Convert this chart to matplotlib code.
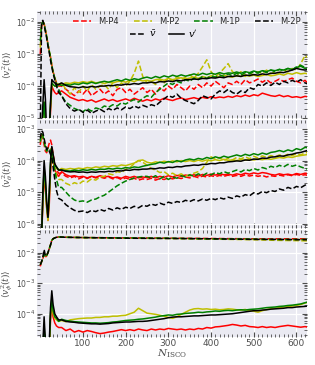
import matplotlib
matplotlib.use("Agg")
import matplotlib.pyplot as plt
from matplotlib.lines import Line2D
from matplotlib.ticker import FixedLocator, MultipleLocator
import numpy as np

# N_ISCO sample points: fine near the start, every 10 afterwards
x_early = [0, 3, 6, 9, 12, 15, 18, 21, 24, 27, 30, 34, 38, 43]
x_tail = list(range(50, 631, 10))
x_all = x_early + x_tail
# smooth mean v_phi curves only need a few points
x_phi_mean = x_early + [60, 100, 200, 300, 400, 500, 550, 600, 630]

models = ["M-P4", "M-P2", "M-1P", "M-2P"]
colors = ["r", "y", "g", "k"]

# ---- log10 <v_r^2(t)> ----
vr_mean = {
    "M-P4": [-3.0, -2.15, -2.0, -2.05, -2.25, -2.45, -2.7, -2.9, -3.1, -3.35, -3.55, -3.75, -3.9, -4.0,
             -4.0, -4.1, -4.2, -4.3, -4.15, -4.25, -4.1, -4.3, -4.2, -4.1,
             -4.25, -4.15, -4.3, -4.1, -4.05, -4.2, -4.1, -4.25, -4.15, -4.05,
             -4.2, -4.1, -4.25, -4.05, -4.15, -4.0, -4.1, -3.95, -4.05, -4.15,
             -4.0, -4.1, -3.95, -4.05, -3.9, -4.0, -3.85, -3.95, -4.05, -3.9,
             -3.95, -3.85, -3.95, -3.8, -3.9, -3.85, -3.78, -3.88, -3.8, -3.9,
             -3.85, -3.78, -3.86, -3.8, -3.75, -3.85, -3.9, -3.82, -3.95],
    "M-P2": [-2.8, -2.1, -2.0, -2.05, -2.25, -2.45, -2.7, -2.9, -3.1, -3.35, -3.55, -3.75, -3.9, -3.95,
             -3.9, -4.1, -4.25, -4.05, -4.2, -4.0, -4.15, -3.95, -4.1, -4.0,
             -3.95, -4.1, -3.9, -4.05, -3.9, -4.0, -3.85, -3.6, -3.22, -3.7,
             -3.9, -3.85, -3.95, -3.8, -3.9, -3.75, -3.85, -3.7, -3.8, -3.72,
             -3.65, -3.75, -3.6, -3.4, -3.18, -3.55, -3.7, -3.6, -3.45, -3.3,
             -3.55, -3.65, -3.55, -3.7, -3.6, -3.65, -3.55, -3.6, -3.5, -3.62,
             -3.55, -3.6, -3.5, -3.55, -3.45, -3.5, -3.3, -3.05, -3.15],
    "M-1P": [-2.6, -2.1, -2.0, -2.05, -2.25, -2.45, -2.7, -2.9, -3.1, -3.35, -3.55, -3.75, -3.95, -4.1,
             -4.3, -4.5, -4.6, -4.7, -4.75, -4.8, -4.7, -4.78, -4.68, -4.72,
             -4.62, -4.66, -4.58, -4.62, -4.52, -4.56, -4.48, -4.42, -4.5, -4.38,
             -4.3, -4.35, -4.2, -4.1, -4.0, -3.9, -3.95, -3.85, -3.9, -3.8,
             -3.85, -3.75, -3.8, -3.7, -3.76, -3.68, -3.72, -3.65, -3.7, -3.62,
             -3.68, -3.6, -3.66, -3.58, -3.62, -3.55, -3.6, -3.52, -3.58, -3.5,
             -3.55, -3.48, -3.52, -3.45, -3.5, -3.4, -3.35, -3.42, -3.45],
    "M-2P": [-5.5, -2.0, -1.95, -2.1, -2.3, -2.5, -2.75, -2.95, -3.2, -3.4, -3.6, -3.8, -4.0, -4.2,
             -4.3, -4.55, -4.7, -4.78, -4.72, -4.82, -4.75, -4.85, -4.78, -4.72,
             -4.8, -4.7, -4.76, -4.68, -4.74, -4.65, -4.7, -4.62, -4.68, -4.6,
             -4.65, -4.58, -4.62, -4.5, -4.4, -4.3, -4.35, -4.25, -4.38, -4.45,
             -4.5, -4.55, -4.45, -4.3, -4.35, -4.4, -4.25, -4.15, -4.2, -4.1,
             -4.2, -4.25, -4.15, -4.2, -4.05, -4.1, -3.95, -4.0, -3.9, -3.98,
             -3.88, -3.95, -3.85, -3.9, -3.82, -3.88, -3.8, -3.9, -3.95],
}
vr_fluct = {
    "M-P4": [-5.5, -5.5, -5.5, -5.2, -5.5, -5.5, -5.5, -5.5, -4.8, -4.0, -4.1, -4.2, -4.25, -4.2,
             -4.15, -4.25, -4.35, -4.4, -4.45, -4.42, -4.47, -4.43, -4.5, -4.45,
             -4.4, -4.46, -4.42, -4.48, -4.44, -4.4, -4.45, -4.38, -4.43, -4.47,
             -4.42, -4.46, -4.4, -4.44, -4.38, -4.42, -4.45, -4.4, -4.37, -4.42,
             -4.39, -4.36, -4.4, -4.35, -4.38, -4.33, -4.37, -4.34, -4.36, -4.32,
             -4.35, -4.3, -4.33, -4.28, -4.32, -4.27, -4.3, -4.22, -4.26, -4.3,
             -4.32, -4.28, -4.33, -4.3, -4.35, -4.33, -4.36, -4.32, -4.34],
    "M-P2": [-5.5, -5.5, -5.0, -4.5, -5.2, -5.5, -5.5, -5.5, -4.6, -3.9, -3.95, -4.0, -4.0, -3.95,
             -3.95, -3.9, -3.92, -3.88, -3.9, -3.86, -3.89, -3.85, -3.9, -3.88,
             -3.92, -3.88, -3.9, -3.86, -3.84, -3.88, -3.82, -3.86, -3.8, -3.84,
             -3.82, -3.85, -3.8, -3.78, -3.82, -3.76, -3.8, -3.77, -3.74, -3.78,
             -3.75, -3.72, -3.76, -3.7, -3.74, -3.68, -3.72, -3.7, -3.66, -3.7,
             -3.72, -3.68, -3.7, -3.65, -3.69, -3.66, -3.7, -3.67, -3.64, -3.68,
             -3.66, -3.62, -3.66, -3.6, -3.63, -3.58, -3.62, -3.6, -3.63],
    "M-1P": [-5.5, -5.5, -5.0, -4.5, -5.2, -5.5, -5.5, -5.5, -4.6, -3.9, -3.95, -4.0, -4.0, -3.95,
             -3.98, -3.95, -3.97, -3.93, -3.95, -3.9, -3.93, -3.88, -3.92, -3.88,
             -3.85, -3.88, -3.84, -3.8, -3.84, -3.78, -3.82, -3.77, -3.8, -3.75,
             -3.72, -3.76, -3.7, -3.74, -3.68, -3.72, -3.66, -3.7, -3.65, -3.69,
             -3.66, -3.62, -3.66, -3.6, -3.64, -3.6, -3.63, -3.58, -3.62, -3.59,
             -3.6, -3.56, -3.6, -3.55, -3.58, -3.53, -3.57, -3.52, -3.55, -3.5,
             -3.52, -3.48, -3.5, -3.45, -3.48, -3.42, -3.38, -3.45, -3.5],
    "M-2P": [-5.5, -5.5, -4.6, -3.8, -4.4, -5.5, -5.5, -5.5, -4.5, -3.8, -3.85, -3.9, -3.95, -3.95,
             -3.9, -3.98, -4.02, -4.03, -4.05, -4.02, -4.04, -4.01, -4.03, -4.0,
             -4.0, -3.98, -3.99, -3.96, -3.97, -3.94, -3.95, -3.92, -3.94, -3.9,
             -3.9, -3.88, -3.9, -3.86, -3.87, -3.84, -3.86, -3.82, -3.84, -3.8,
             -3.8, -3.78, -3.79, -3.76, -3.77, -3.74, -3.75, -3.72, -3.74, -3.7,
             -3.7, -3.68, -3.7, -3.66, -3.67, -3.64, -3.66, -3.62, -3.64, -3.6,
             -3.6, -3.57, -3.58, -3.54, -3.5, -3.45, -3.48, -3.5, -3.48],
}

# ---- log10 <v_theta^2(t)> ----
vth_mean = {
    "M-P4": [-3.5, -3.2, -3.3, -3.5, -3.7, -3.75, -3.6, -3.45, -3.35, -3.5, -3.8, -4.1, -4.3, -4.4,
             -4.4, -4.5, -4.55, -4.5, -4.58, -4.52, -4.57, -4.5, -4.55, -4.52,
             -4.56, -4.52, -4.58, -4.54, -4.6, -4.55, -4.6, -4.56, -4.62, -4.58,
             -4.6, -4.56, -4.62, -4.57, -4.6, -4.55, -4.58, -4.54, -4.57, -4.52,
             -4.55, -4.5, -4.54, -4.49, -4.52, -4.48, -4.51, -4.47, -4.5, -4.46,
             -4.5, -4.47, -4.5, -4.45, -4.49, -4.46, -4.5, -4.47, -4.52, -4.48,
             -4.5, -4.46, -4.49, -4.45, -4.48, -4.44, -4.47, -4.45, -4.48],
    "M-P2": [-3.4, -3.15, -3.2, -3.4, -3.6, -3.7, -3.6, -3.6, -3.6, -3.7, -3.9, -4.2, -4.5, -4.6,
             -4.6, -4.72, -4.78, -4.7, -4.75, -4.65, -4.68, -4.58, -4.62, -4.52,
             -4.5, -4.42, -4.45, -4.35, -4.38, -4.28, -4.22, -4.1, -4.0, -4.05,
             -4.15, -4.25, -4.3, -4.38, -4.35, -4.45, -4.4, -4.48, -4.42, -4.5,
             -4.45, -4.4, -4.35, -4.25, -4.05, -3.88, -3.95, -3.9, -4.0, -3.92,
             -3.98, -3.9, -3.95, -3.88, -3.94, -3.86, -3.92, -3.85, -3.9, -3.84,
             -3.88, -3.82, -3.86, -3.8, -3.84, -3.78, -3.82, -3.76, -3.72],
    "M-1P": [-3.4, -3.15, -3.2, -3.4, -3.6, -3.7, -3.6, -3.6, -3.7, -3.8, -4.0, -4.3, -4.6, -4.85,
             -4.85, -5.0, -5.15, -5.25, -5.3, -5.28, -5.32, -5.25, -5.22, -5.15,
             -5.1, -5.0, -4.9, -4.8, -4.72, -4.65, -4.6, -4.55, -4.52, -4.5,
             -4.5, -4.55, -4.48, -4.58, -4.5, -4.6, -4.52, -4.56, -4.48, -4.52,
             -4.45, -4.5, -4.42, -4.48, -4.4, -4.45, -4.38, -4.42, -4.35, -4.4,
             -4.35, -4.3, -4.36, -4.28, -4.32, -4.25, -4.3, -4.22, -4.26, -4.18,
             -4.22, -4.15, -4.2, -4.12, -4.18, -4.14, -4.2, -4.25, -4.28],
    "M-2P": [-3.3, -3.05, -3.1, -3.3, -3.5, -3.65, -3.6, -3.7, -3.8, -3.9, -4.2, -4.6, -4.95, -5.2,
             -5.25, -5.4, -5.5, -5.58, -5.62, -5.6, -5.65, -5.58, -5.62, -5.55,
             -5.6, -5.52, -5.57, -5.5, -5.55, -5.48, -5.52, -5.45, -5.5, -5.42,
             -5.45, -5.38, -5.42, -5.35, -5.4, -5.32, -5.36, -5.3, -5.33, -5.26,
             -5.3, -5.24, -5.28, -5.22, -5.26, -5.2, -5.24, -5.18, -5.22, -5.16,
             -5.2, -5.12, -5.16, -5.08, -5.12, -5.02, -5.06, -4.98, -5.02, -4.95,
             -4.98, -4.9, -4.94, -4.85, -4.9, -4.82, -4.86, -4.78, -4.72],
}
vth_fluct = {
    "M-P4": [-6.5, -6.5, -5.4, -4.5, -4.9, -5.5, -5.9, -5.4, -4.4, -3.8, -4.0, -4.3, -4.4, -4.5,
             -4.35, -4.45, -4.5, -4.48, -4.52, -4.5, -4.55, -4.5, -4.53, -4.48,
             -4.52, -4.5, -4.55, -4.52, -4.56, -4.5, -4.54, -4.5, -4.55, -4.52,
             -4.54, -4.5, -4.55, -4.5, -4.53, -4.48, -4.52, -4.47, -4.5, -4.46,
             -4.48, -4.45, -4.49, -4.44, -4.47, -4.43, -4.46, -4.42, -4.45, -4.43,
             -4.46, -4.42, -4.45, -4.4, -4.43, -4.39, -4.42, -4.38, -4.4, -4.44,
             -4.46, -4.42, -4.45, -4.43, -4.46, -4.41, -4.44, -4.4, -4.42],
    "M-P2": [-6.5, -6.5, -5.2, -4.3, -4.8, -5.5, -5.9, -5.2, -4.2, -3.65, -3.9, -4.2, -4.25, -4.3,
             -4.25, -4.28, -4.25, -4.27, -4.24, -4.26, -4.22, -4.24, -4.2, -4.22,
             -4.18, -4.2, -4.16, -4.18, -4.14, -4.16, -4.12, -4.08, -4.0, -3.98,
             -4.05, -4.08, -4.04, -4.06, -4.02, -4.05, -4.01, -4.04, -4.0, -4.03,
             -4.0, -4.03, -3.99, -4.02, -3.98, -4.01, -3.97, -4.0, -3.96, -3.99,
             -3.98, -4.0, -3.97, -3.99, -3.96, -3.98, -3.95, -3.97, -3.94, -3.96,
             -3.93, -3.9, -3.92, -3.88, -3.9, -3.86, -3.84, -3.82, -3.8],
    "M-1P": [-6.5, -6.5, -5.2, -4.2, -4.7, -5.4, -5.8, -5.1, -4.1, -3.6, -3.85, -4.15, -4.2, -4.3,
             -4.3, -4.32, -4.33, -4.3, -4.32, -4.29, -4.31, -4.28, -4.3, -4.27,
             -4.28, -4.25, -4.27, -4.24, -4.26, -4.22, -4.24, -4.2, -4.22, -4.18,
             -4.15, -4.12, -4.1, -4.05, -4.08, -4.03, -4.06, -4.0, -4.04, -3.98,
             -3.95, -3.98, -3.93, -3.96, -3.9, -3.94, -3.88, -3.92, -3.86, -3.9,
             -3.86, -3.82, -3.86, -3.8, -3.84, -3.78, -3.82, -3.76, -3.8, -3.74,
             -3.72, -3.68, -3.72, -3.66, -3.7, -3.62, -3.66, -3.58, -3.6],
    "M-2P": [-6.5, -6.5, -5.0, -4.0, -4.5, -5.3, -5.8, -5.0, -4.0, -3.55, -3.8, -4.1, -4.2, -4.3,
             -4.3, -4.34, -4.36, -4.35, -4.37, -4.36, -4.38, -4.36, -4.37, -4.35,
             -4.36, -4.34, -4.35, -4.32, -4.33, -4.3, -4.31, -4.28, -4.29, -4.27,
             -4.27, -4.25, -4.26, -4.23, -4.24, -4.21, -4.22, -4.19, -4.2, -4.17,
             -4.16, -4.14, -4.15, -4.12, -4.12, -4.09, -4.1, -4.07, -4.07, -4.04,
             -4.03, -4.01, -4.02, -3.98, -3.99, -3.95, -3.96, -3.92, -3.93, -3.89,
             -3.88, -3.85, -3.86, -3.82, -3.8, -3.76, -3.74, -3.7, -3.66],
}

# ---- log10 <v_phi^2(t)> ----
vph_mean = {
    "M-P4": [-2.45, -2.3, -2.2, -2.05, -2.15, -2.1, -2.0, -1.88, -1.75, -1.6, -1.55, -1.52, -1.5, -1.49,
             -1.5, -1.51, -1.52, -1.53, -1.54, -1.55, -1.55, -1.55, -1.55],
    "M-P2": [-2.4, -2.3, -2.2, -2.05, -2.15, -2.1, -2.0, -1.88, -1.75, -1.6, -1.55, -1.52, -1.5, -1.49,
             -1.5, -1.51, -1.53, -1.54, -1.56, -1.58, -1.6, -1.61, -1.62],
    "M-1P": [-2.4, -2.3, -2.2, -2.05, -2.15, -2.1, -2.0, -1.88, -1.75, -1.6, -1.55, -1.52, -1.5, -1.49,
             -1.5, -1.51, -1.52, -1.53, -1.55, -1.56, -1.57, -1.57, -1.57],
    "M-2P": [-2.4, -2.3, -2.15, -1.9, -2.1, -2.1, -2.0, -1.88, -1.75, -1.6, -1.55, -1.52, -1.5, -1.49,
             -1.5, -1.51, -1.53, -1.54, -1.55, -1.57, -1.57, -1.58, -1.58],
}
vph_fluct = {
    "M-P4": [-5.5, -5.5, -5.5, -4.8, -5.5, -5.5, -5.5, -5.3, -4.2, -3.7, -4.1, -4.3, -4.4, -4.45,
             -4.45, -4.55, -4.5, -4.6, -4.55, -4.6, -4.55, -4.58, -4.62, -4.65,
             -4.63, -4.6, -4.58, -4.55, -4.52, -4.55, -4.52, -4.55, -4.5, -4.53,
             -4.55, -4.5, -4.53, -4.5, -4.52, -4.48, -4.5, -4.52, -4.5, -4.53,
             -4.5, -4.52, -4.48, -4.5, -4.45, -4.47, -4.43, -4.42, -4.4, -4.38,
             -4.35, -4.37, -4.4, -4.38, -4.42, -4.43, -4.45, -4.42, -4.45, -4.43,
             -4.45, -4.42, -4.4, -4.38, -4.4, -4.42, -4.44, -4.42, -4.45],
    "M-P2": [-5.5, -5.5, -5.2, -4.5, -5.2, -5.5, -5.5, -5.2, -4.1, -3.6, -4.0, -4.15, -4.2, -4.25,
             -4.22, -4.26, -4.2, -4.18, -4.16, -4.15, -4.14, -4.14, -4.12, -4.12,
             -4.1, -4.1, -4.08, -4.08, -4.06, -4.05, -4.0, -3.95, -3.82, -3.9,
             -3.98, -4.0, -4.02, -4.05, -4.08, -4.12, -4.15, -4.1, -4.02, -3.95,
             -3.88, -3.84, -3.83, -3.85, -3.84, -3.86, -3.85, -3.87, -3.86, -3.84,
             -3.85, -3.87, -3.88, -3.86, -3.9, -3.92, -3.95, -3.9, -3.86, -3.84,
             -3.82, -3.8, -3.78, -3.77, -3.75, -3.73, -3.7, -3.65, -3.62],
    "M-1P": [-5.5, -5.5, -5.2, -4.4, -5.1, -5.5, -5.5, -5.1, -4.0, -3.5, -3.9, -4.1, -4.15, -4.25,
             -4.18, -4.22, -4.24, -4.26, -4.27, -4.28, -4.29, -4.3, -4.3, -4.31,
             -4.3, -4.29, -4.27, -4.26, -4.24, -4.22, -4.21, -4.2, -4.18, -4.17,
             -4.15, -4.13, -4.11, -4.08, -4.06, -4.04, -4.05, -4.02, -4.01, -3.99,
             -3.98, -3.97, -3.95, -3.96, -3.94, -3.93, -3.91, -3.92, -3.9, -3.89,
             -3.9, -3.88, -3.87, -3.88, -3.86, -3.85, -3.84, -3.82, -3.8, -3.79,
             -3.78, -3.76, -3.75, -3.73, -3.72, -3.7, -3.68, -3.64, -3.6],
    "M-2P": [-5.5, -5.5, -5.0, -4.1, -4.9, -5.5, -5.5, -5.0, -3.8, -3.25, -3.7, -4.0, -4.1, -4.2,
             -4.2, -4.25, -4.27, -4.28, -4.3, -4.31, -4.32, -4.33, -4.33, -4.34,
             -4.33, -4.32, -4.3, -4.29, -4.28, -4.27, -4.27, -4.26, -4.25, -4.25,
             -4.24, -4.22, -4.2, -4.18, -4.16, -4.13, -4.11, -4.1, -4.1, -4.09,
             -4.08, -4.07, -4.07, -4.06, -4.05, -4.04, -4.04, -4.03, -4.02, -4.01,
             -4.0, -3.98, -3.96, -3.94, -3.92, -3.9, -3.9, -3.88, -3.87, -3.85,
             -3.84, -3.83, -3.82, -3.8, -3.8, -3.78, -3.77, -3.76, -3.74],
}

ylabels = [r"$\langle v_r^2(t)\rangle$", r"$\langle v_\theta^2(t)\rangle$", r"$\langle v_\phi^2(t)\rangle$"]
ylims = [(1e-5, 2.2e-2), (7.5e-7, 1.9e-3), (1.75e-5, 5.6e-2)]

plt.rcParams["font.family"] = "DejaVu Sans"
plt.rcParams["mathtext.fontset"] = "dejavuserif"

fig, axes = plt.subplots(3, 1, sharex=True, figsize=(3.15, 3.65), dpi=100)
fig.subplots_adjust(left=0.117, right=0.975, top=0.97, bottom=0.077, hspace=0.02)

panels = [(vr_mean, vr_fluct, x_all), (vth_mean, vth_fluct, x_all), (vph_mean, vph_fluct, x_phi_mean)]

for ax, (mean, fluct, xm), lab, yl in zip(axes, panels, ylabels, ylims):
    ax.set_facecolor("#EAEAF2")
    for s in ax.spines.values():
        s.set_visible(False)
    ax.grid(True, which="major", color="white", lw=0.9)
    ax.set_axisbelow(True)
    for m, c in zip(models, colors):
        ax.plot(xm, 10 ** np.array(mean[m]), color=c, ls="--", lw=1.1)
        ax.plot(x_all, 10 ** np.array(fluct[m]), color=c, ls="-", lw=1.1)
    ax.set_yscale("log")
    ax.set_ylim(*yl)
    ax.set_ylabel(lab, fontsize=6.5, color=".3")
    ax.yaxis.set_label_coords(-0.082, 0.5)
    ax.tick_params(which="both", direction="in", top=True, right=True,
                   labelsize=5.5, colors=".3", pad=1.2)
    ax.tick_params(which="major", length=3.5, width=0.8)
    ax.tick_params(which="minor", length=2, width=0.6)

axes[-1].set_xlim(-8, 625)
axes[-1].xaxis.set_major_locator(FixedLocator([100, 200, 300, 400, 500, 600]))
axes[-1].xaxis.set_minor_locator(MultipleLocator(10))
axes[-1].tick_params(axis="x", labelsize=6.5)
axes[-1].set_xlabel(r"$N_{\rm ISCO}$", fontsize=7.5, color=".3", labelpad=0)

handles = [Line2D([], [], color=c, ls="--", lw=1.1) for c in colors]
leg1 = axes[0].legend(handles, models, ncol=4, loc="center", bbox_to_anchor=(0.555, 0.9),
                      frameon=False, fontsize=6, handlelength=2.2, columnspacing=1.8,
                      handletextpad=0.8, borderpad=0.1)
for t in leg1.get_texts():
    t.set_color(".15")
axes[0].add_artist(leg1)
h2 = [Line2D([], [], color="k", ls="--", lw=1.1), Line2D([], [], color="k", ls="-", lw=1.1)]
leg2 = axes[0].legend(h2, [r"$\bar{v}$", r"$v'$"], ncol=2, loc="center", bbox_to_anchor=(0.47, 0.79),
                      frameon=False, fontsize=7, handlelength=1.6, columnspacing=1.2,
                      handletextpad=0.4, borderpad=0.1)

fig.savefig("out.png", dpi=100)
